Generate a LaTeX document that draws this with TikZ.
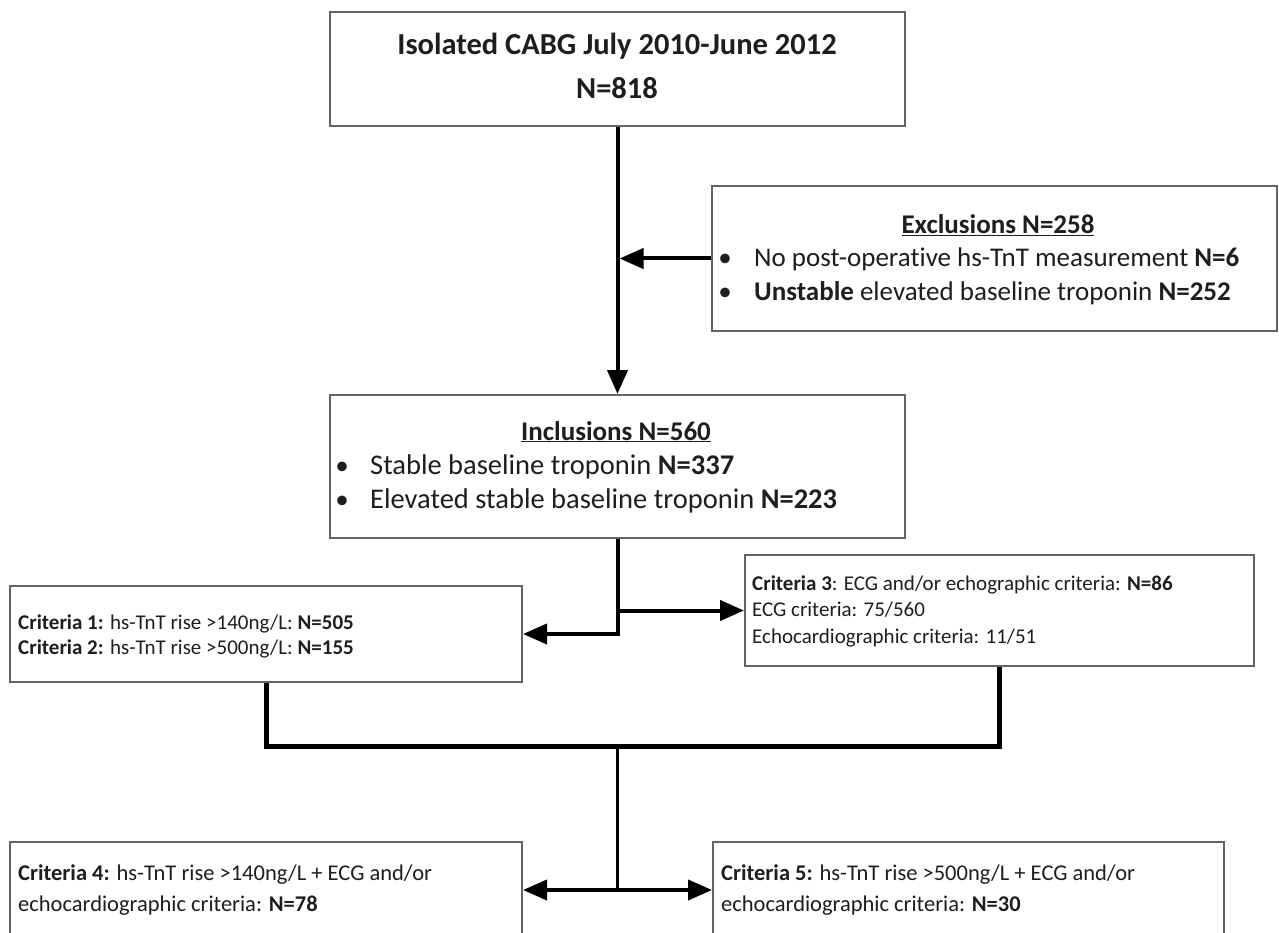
\documentclass[tikz,border=0pt]{standalone}
\usepackage{fontspec}
\setmainfont[RawFeature={-liga}]{Carlito}
\usetikzlibrary{arrows.meta,calc}
\definecolor{boxgray}{RGB}{100,100,100}
\definecolor{txtgray}{RGB}{30,30,30}
\begin{document}
\begin{tikzpicture}[x=1pt,y=-1pt,
  box/.style={draw=boxgray,line width=2pt,fill=white,inner sep=0pt},
  big/.style={font=\fontsize{27}{32}\selectfont,text=txtgray,inner sep=0pt},
  bigi/.style={font=\fontsize{28.5}{33}\selectfont,text=txtgray,inner sep=0pt},
  bighead/.style={font=\fontsize{27}{32}\selectfont\bfseries,text=txtgray,inner sep=0pt},
  title/.style={font=\fontsize{30.5}{36}\selectfont\bfseries,text=txtgray,inner sep=0pt},
  small/.style={font=\fontsize{21}{25}\selectfont,text=txtgray,inner sep=0pt},
  smallb/.style={font=\fontsize{22.5}{27}\selectfont,text=txtgray,inner sep=0pt},
  conn/.style={line width=4pt,black},
  connthin/.style={line width=3pt,black},
  arr/.style={-{Triangle[length=24pt,width=20pt]}},
  darr/.style={{Triangle[length=24pt,width=20pt]}-{Triangle[length=24pt,width=20pt]}}]
\useasboundingbox (0,0) rectangle (1279,933);
\fill[white] (0,0) rectangle (1279,933);
\clip (0,0) rectangle (1279,933);

% boxes
\node[box,minimum width=575pt,minimum height=114pt] (top) at (617.5,69) {};
\node[box,minimum width=565pt,minimum height=145pt] (excl) at (994.5,258.5) {};
\node[box,minimum width=575pt,minimum height=143pt] (incl) at (617.5,466.5) {};
\node[box,minimum width=512pt,minimum height=96pt] (c1) at (266,634) {};
\node[box,minimum width=509pt,minimum height=111pt] (c3) at (999.5,610.5) {};
\node[box,minimum width=512pt,minimum height=96pt] (c4) at (266,890) {};
\node[box,minimum width=511pt,minimum height=96pt] (c5) at (968.5,890) {};

% top text
\node[title,anchor=base] (t1) at (617,55) {Isolated CABG July 2010-June 2012};
\node[title,anchor=base] (t2) at (617,99) {N=818};

% exclusions
\node[bighead,anchor=base] (eh) at (998,234) {\underline{Exclusions N=258}};
\node[big,anchor=base] (eb1) at (725,267) {•};
\node[big,anchor=base west] (e1) at (754,267) {No post-operative hs-TnT measurement \textbf{N=6}};
\node[big,anchor=base] (eb2) at (725,301) {•};
\node[big,anchor=base west] (e2) at (754,301) {\textbf{Unstable} elevated baseline troponin \textbf{N=252}};

% inclusions
\node[bighead,anchor=base] (ih) at (616,440) {\underline{Inclusions N=560}};
\node[big,anchor=base] (ib1) at (342,474) {•};
\node[bigi,anchor=base west] (i1) at (370,474) {Stable baseline troponin \textbf{N=337}};
\node[big,anchor=base] (ib2) at (342,508) {•};
\node[bigi,anchor=base west] (i2) at (370,508) {Elevated stable baseline troponin \textbf{N=223}};

% criteria 1/2
\node[small,anchor=base west] (c1a) at (18,629) {\textbf{Criteria 1:} hs-TnT rise >140ng/L: \textbf{N=505}};
\node[small,anchor=base west] (c1b) at (18,654) {\textbf{Criteria 2:} hs-TnT rise >500ng/L: \textbf{N=155}};

% criteria 3
\node[small,anchor=base west] (c3a) at (752,590) {\textbf{Criteria 3}: ECG and/or echographic criteria: \textbf{N=86}};
\node[small,anchor=base west] (c3b) at (752,616) {ECG criteria: 75/560};
\node[small,anchor=base west] (c3c) at (752,643) {Echocardiographic criteria: 11/51};

% criteria 4
\node[smallb,anchor=base west] (c4a) at (18,880) {\textbf{Criteria 4:} hs-TnT rise >140ng/L + ECG and/or};
\node[smallb,anchor=base west] (c4b) at (18,911) {echocardiographic criteria: \textbf{N=78}};

% criteria 5
\node[smallb,anchor=base west] (c5a) at (721,880) {\textbf{Criteria 5:} hs-TnT rise >500ng/L + ECG and/or};
\node[smallb,anchor=base west] (c5b) at (721,911) {echocardiographic criteria: \textbf{N=30}};

% connectors
\coordinate (ex) at ($(top.south |- excl.west)+(2,0)$);
\coordinate (merge) at (617.5,746);
\draw[conn,arr] (top.south) -- (incl.north);
\draw[conn,arr] (excl.west) -- (ex);
\draw[conn,arr] (incl.south) |- (c1.east);
\draw[conn,arr] (incl.south |- c3.west) -- (c3.west);
\draw[conn,line width=5pt] (c1.south) |- (merge) -| (c3.south);
\draw[connthin] (merge) -- (merge |- c4.east);
\draw[conn,darr] (c4.east) -- (c5.west);
\end{tikzpicture}
\end{document}
